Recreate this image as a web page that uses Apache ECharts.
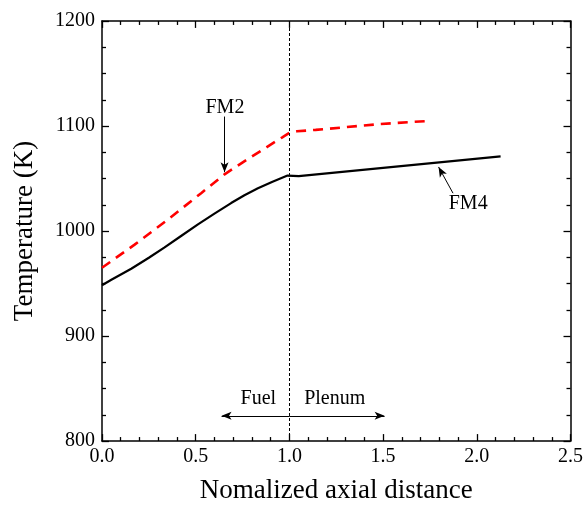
<!DOCTYPE html>
<html>
<head>
<meta charset="utf-8">
<script src="https://cdn.jsdelivr.net/npm/echarts@6/dist/echarts.min.js"></script>
<style>html,body{margin:0;padding:0;background:#fff}#c{width:586px;height:509px}</style>
</head>
<body>
<div id="c"></div>
<script>
// ---- data ----
const fm4X = [0, 0.05, 0.156, 0.25, 0.334, 0.42, 0.512, 0.6, 0.689, 0.76, 0.832, 0.91, 0.99, 1.0, 1.05, 2.127];
const fm4T = [948.4, 953.5, 964.1, 974.5, 984.4, 995, 1006.3, 1016.5, 1026.6, 1034, 1040.7, 1047, 1052.8, 1051.5, 1052.2, 1071];
const fm2X = [0, 0.174, 0.352, 0.529, 0.654, 0.778, 0.902, 0.96, 1.0, 1.04, 1.14, 1.48, 1.757];
const fm2T = [965, 987, 1011, 1036, 1054, 1068.5, 1082.5, 1089, 1093.5, 1095, 1096.3, 1101.8, 1105];
const xTicks = [0, 0.5, 1.0, 1.5, 2.0, 2.5];
const yTicks = [800, 900, 1000, 1100, 1200];
const xMinorPerMajor = 5;
const yMinorPerMajor = 4;
const boundaryX = 1.0;
const labels = [
  {text: 'FM2', x: 0.656, y: 1117},
  {text: 'FM4', x: 1.954, y: 1025.5},
  {text: 'Fuel', x: 0.834, y: 840.6},
  {text: 'Plenum', x: 1.242, y: 840.6}
];
const arrows = [
  {from: [0.654, 1109], to: [0.654, 1056]},
  {from: [1.873, 1036], to: [1.796, 1061]},
  {from: [1.0, 824], to: [0.638, 824]},
  {from: [1.0, 824], to: [1.508, 824]}
];

const zip = (xs, ys) => xs.map((x, i) => [x, ys[i]]);
const FONT = "'Liberation Serif', 'Times New Roman', serif";
const xMin = xTicks[0], xMax = xTicks[xTicks.length - 1];
const yMin = yTicks[0], yMax = yTicks[yTicks.length - 1];

// inward tick marks on all four sides, as short segments in data units
const TICK_X_MAJOR = (xMax - xMin) * 7 / 469, TICK_X_MINOR = (xMax - xMin) * 4 / 469;
const TICK_Y_MAJOR = (yMax - yMin) * 7 / 425, TICK_Y_MINOR = (yMax - yMin) * 4 / 425;
const tickSegs = [];
function addX(v, major) {
  const l = major ? TICK_Y_MAJOR : TICK_Y_MINOR;
  tickSegs.push([{coord: [v, yMin]}, {coord: [v, yMin + l]}]);
  tickSegs.push([{coord: [v, yMax]}, {coord: [v, yMax - l]}]);
}
function addY(v, major) {
  const l = major ? TICK_X_MAJOR : TICK_X_MINOR;
  tickSegs.push([{coord: [xMin, v]}, {coord: [xMin + l, v]}]);
  tickSegs.push([{coord: [xMax, v]}, {coord: [xMax - l, v]}]);
}
for (let i = 0; i < xTicks.length; i++) {
  addX(xTicks[i], true);
  if (i < xTicks.length - 1) {
    const step = (xTicks[i + 1] - xTicks[i]) / xMinorPerMajor;
    for (let k = 1; k < xMinorPerMajor; k++) addX(xTicks[i] + k * step, false);
  }
}
for (let i = 0; i < yTicks.length; i++) {
  addY(yTicks[i], true);
  if (i < yTicks.length - 1) {
    const step = (yTicks[i + 1] - yTicks[i]) / yMinorPerMajor;
    for (let k = 1; k < yMinorPerMajor; k++) addY(yTicks[i] + k * step, false);
  }
}

const chart = echarts.init(document.getElementById('c'), null, {renderer: 'canvas'});
const axLine = () => ({show: true, onZero: false, lineStyle: {color: '#000', width: 1.5}});

chart.setOption({
  animation: false,
  backgroundColor: '#fff',
  grid: {left: 102, right: 15, top: 21, bottom: 63},
  xAxis: [
    {
      type: 'value', min: xMin, max: xMax, interval: 0.5, position: 'bottom',
      axisLine: axLine(), axisTick: {show: false}, splitLine: {show: false},
      name: 'Nomalized axial distance', nameLocation: 'middle', nameGap: 36,
      nameTextStyle: {fontFamily: FONT, fontSize: 27, color: '#000'},
      axisLabel: {fontFamily: FONT, fontSize: 20, color: '#000', margin: 6,
        formatter: v => v.toFixed(1)}
    },
    {
      type: 'value', min: xMin, max: xMax, interval: 0.5, position: 'top',
      axisLine: axLine(), axisTick: {show: false}, splitLine: {show: false},
      axisLabel: {show: false}
    }
  ],
  yAxis: [
    {
      type: 'value', min: yMin, max: yMax, interval: 100, position: 'left',
      axisLine: axLine(), axisTick: {show: false}, splitLine: {show: false},
      name: 'Temperature (K)', nameLocation: 'middle', nameGap: 64, nameRotate: 90,
      nameTextStyle: {fontFamily: FONT, fontSize: 27, color: '#000'},
      axisLabel: {fontFamily: FONT, fontSize: 20, color: '#000', margin: 7,
        formatter: v => String(v)}
    },
    {
      type: 'value', min: yMin, max: yMax, interval: 100, position: 'right',
      axisLine: axLine(), axisTick: {show: false}, splitLine: {show: false},
      axisLabel: {show: false}
    }
  ],
  series: [
    {
      type: 'line', name: 'FM2', data: zip(fm2X, fm2T), showSymbol: false, symbol: 'none',
      lineStyle: {color: '#ff0000', width: 2.6, type: [10, 7]}, z: 3
    },
    {
      type: 'line', name: 'FM4', data: zip(fm4X, fm4T), showSymbol: false, symbol: 'none',
      lineStyle: {color: '#000', width: 2.2}, z: 4,
      markLine: {
        silent: true, symbol: ['none', 'none'], label: {show: false},
        lineStyle: {color: '#000', width: 1, type: [3, 2]},
        data: [{xAxis: boundaryX}]
      }
    },
    {
      type: 'line', data: [], showSymbol: false,
      markLine: {
        silent: true, symbol: ['none', 'arrow'], symbolSize: [6, 10], label: {show: false},
        lineStyle: {color: '#000', width: 1, type: 'solid'},
        data: arrows.map(a => [{coord: a.from}, {coord: a.to}])
      }
    },
    {
      type: 'line', data: [], showSymbol: false, z: 6,
      markLine: {
        silent: true, symbol: ['none', 'none'], label: {show: false},
        lineStyle: {color: '#000', width: 1.3, type: 'solid', opacity: 1},
        data: tickSegs
      }
    },
    {
      type: 'scatter', symbolSize: 0, data: labels.map(l => [l.x, l.y]), silent: true,
      itemStyle: {color: '#000', opacity: 1},
      label: {
        show: true, position: 'inside', color: '#000', fontFamily: FONT,
        textBorderWidth: 0, opacity: 1,
        formatter: p => labels[p.dataIndex].text,
        fontSize: 20
      }
    }
  ]
});
</script>
</body>
</html>
